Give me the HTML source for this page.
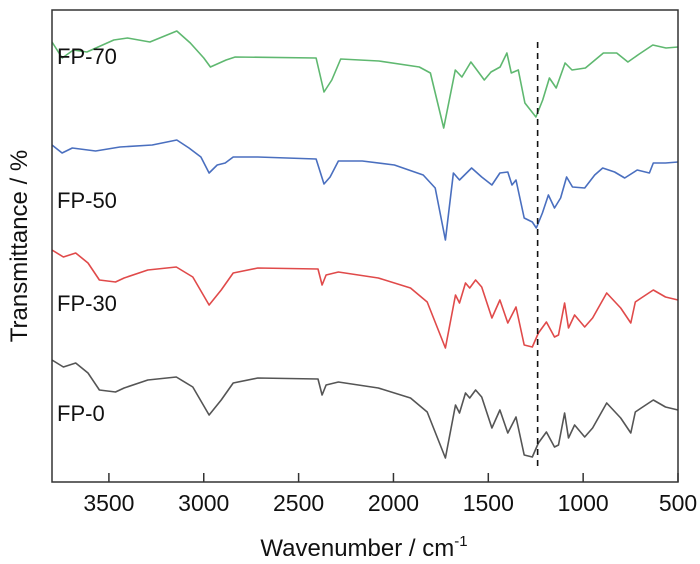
<!DOCTYPE html>
<html><head><meta charset="utf-8"><style>
html,body{margin:0;padding:0;background:#fff;}
svg{display:block;font-family:"Liberation Sans",Arial,sans-serif;}
</style></head><body>
<svg id="chart" width="700" height="564" viewBox="0 0 700 564" xmlns="http://www.w3.org/2000/svg">
<g id="plot"></g>
</svg>
<script>
const tickLabels = [3500, 3000, 2500, 2000, 1500, 1000, 500];
const seriesNames = ["FP-0", "FP-30", "FP-50", "FP-70"];
const seriesColors = ["#555555", "#e04a4a", "#4a6fbf", "#5fb870"];
const seriesOffsets = [0, 110, 220, 350];
const labelLevels = [69, 69, 62, 76];
const wnA = [3800,3740,3675,3610,3550,3465,3420,3295,3145,3058,2972,2908,2845,2715,2398,2376,2355,2290,2080,1910,1822,1726,1673,1652,1620,1598,1567,1535,1481,1439,1397,1354,1311,1268,1236,1194,1151,1130,1098,1077,1045,992,950,876,802,749,725,694,630,566,500];
const fp0 = [122,115,119,109,92,90,94,102,105,95,67,82,99,104,103,87,97,100,94,84,70,24,77,69,89,84,92,85,54,72,49,65,27,25,39,50,35,37,69,44,57,45,54,79,64,49,70,74,82,75,72];
const fp30 = [122,115,119,109,92,90,94,102,105,95,67,82,99,104,103,87,97,100,94,84,70,24,77,69,89,84,92,85,54,72,49,65,27,25,39,50,35,37,69,44,57,45,54,79,64,49,70,74,82,75,72];
const wnB = [3800,3747,3693,3570,3442,3272,3142,3078,3015,2972,2929,2887,2845,2715,2408,2366,2334,2290,2164,1995,1843,1780,1726,1684,1652,1588,1535,1481,1439,1397,1375,1354,1311,1268,1247,1215,1183,1151,1119,1087,1056,992,939,897,834,781,715,651,630,566,500];
const fp50 = [117,109,114,111,115,117,122,114,105,89,97,99,105,105,103,78,85,101,101,97,87,74,22,89,82,94,85,77,89,90,77,82,44,40,34,49,67,54,64,85,75,74,87,94,90,84,92,89,99,99,100];
const wnC = [3800,3746,3687,3616,3474,3402,3284,3142,3071,3000,2965,2882,2834,2408,2366,2325,2278,2077,1864,1805,1735,1674,1639,1592,1568,1521,1486,1438,1402,1379,1342,1307,1249,1213,1178,1142,1095,1059,988,893,823,764,704,633,563,500];
const fp70 = [90,74,82,80,92,94,90,101,89,74,65,72,75,74,40,52,73,71,65,59,4,62,55,70,64,52,60,65,79,59,62,29,15,32,54,44,69,62,64,79,79,70,78,87,84,85];
const seriesX = [wnA, wnA, wnB, wnC];
const seriesY = [fp0, fp30, fp50, fp70];
const markerWn = 1240;

const L=52,R=678,T=10,B=482;
const xScale = w => L + (3800 - w) / 3300 * (R - L);
const yScale = v => B - v;
const NS="http://www.w3.org/2000/svg";
const plot=document.getElementById('plot');
function mk(tag, attrs){const e=document.createElementNS(NS,tag);for(const k in attrs)e.setAttribute(k,attrs[k]);return e;}

for(let s=0;s<seriesY.length;s++){
  let d="";
  seriesY[s].forEach((v,i)=>{d+=(i?"L":"M")+xScale(seriesX[s][i]).toFixed(1)+","+yScale(v+seriesOffsets[s]).toFixed(1);});
  const p=mk('path',{d:d,fill:"none",stroke:seriesColors[s],"stroke-width":1.6,"stroke-linejoin":"round"});
  
  
  plot.appendChild(p);
  const t=mk('text',{x:57,y:yScale(seriesOffsets[s]+labelLevels[s])+8,"font-size":22,fill:"#111"});
  t.textContent=seriesNames[s];
  
  
  plot.appendChild(t);
}
const dl=mk('line',{x1:xScale(markerWn),x2:xScale(markerWn),y1:42,y2:468,stroke:"#111","stroke-width":1.6,"stroke-dasharray":"6,5"});


plot.appendChild(dl);

const frame=mk('rect',{x:L,y:T,width:R-L,height:B-T,fill:"none",stroke:"#333","stroke-width":1.5});


plot.appendChild(frame);

tickLabels.forEach(v=>{
  const x=xScale(v);
  const tk=mk('line',{x1:x,x2:x,y1:B,y2:B-9,stroke:"#333","stroke-width":1.5});
  
  
  plot.appendChild(tk);
  const tl=mk('text',{x:x,y:511,"font-size":23,"text-anchor":"middle",fill:"#111"});
  tl.textContent=v;
  
  
  plot.appendChild(tl);
});
const xt=mk('text',{x:364,y:556,"font-size":24,"text-anchor":"middle",fill:"#111"});
xt.innerHTML='Wavenumber / cm<tspan dy="-10" font-size="15">-1</tspan>';


plot.appendChild(xt);
const yt=mk('text',{x:0,y:0,"font-size":24,"text-anchor":"middle",fill:"#111",transform:"translate(27,246) rotate(-90)"});
yt.textContent='Transmittance / %';


plot.appendChild(yt);
</script>
</body></html>
